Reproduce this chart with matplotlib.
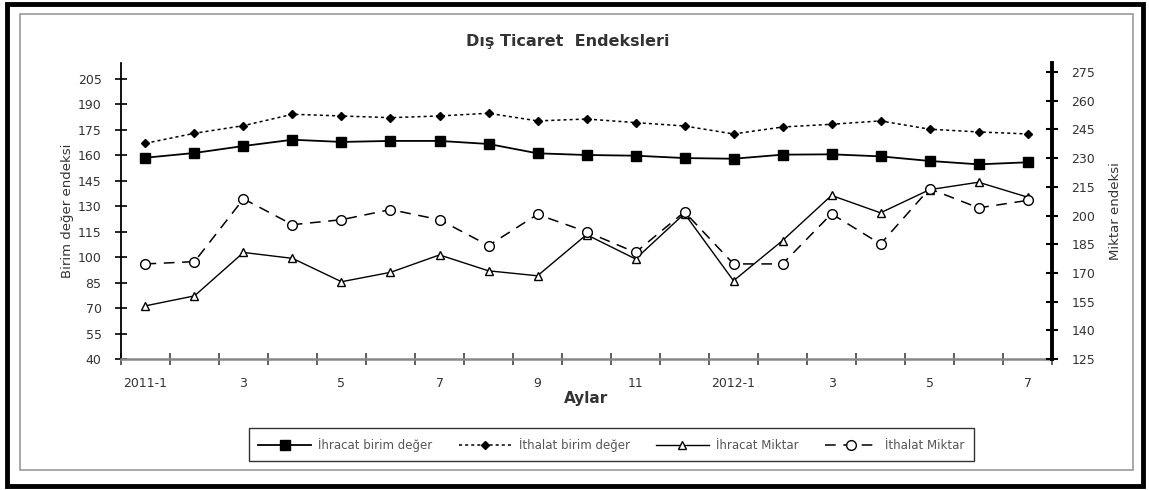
import numpy as np
import matplotlib
matplotlib.use('Agg')
import matplotlib.pyplot as plt
from matplotlib.patches import Rectangle

plt.rcParams['font.family'] = ['DejaVu Sans']

# Veri: 2011-1 .. 2012-7 (19 ay)
aylar = ['2011-1', '2', '3', '4', '5', '6', '7', '8', '9', '10', '11', '12',
         '2012-1', '2', '3', '4', '5', '6', '7']
etiketler = ['2011-1', '3', '5', '7', '9', '11', '2012-1', '3', '5', '7']

ihracat_birim = [158.6, 161.4, 165.5, 169.2, 167.9, 168.5, 168.5, 166.7, 161.2, 160.2,
                 159.8, 158.4, 158.0, 160.4, 160.6, 159.4, 156.7, 154.7, 155.9]
ithalat_birim = [167.1, 173.0, 177.5, 184.2, 183.2, 182.2, 183.2, 184.8, 180.3, 181.4,
                 179.3, 177.3, 172.6, 176.7, 178.3, 180.3, 175.4, 173.8, 172.6]
ihracat_miktar = [152.8, 158.0, 180.7, 177.6, 165.4, 170.3, 179.4, 171.1, 168.5, 190.0,
                  177.3, 201.0, 165.9, 186.9, 210.5, 201.4, 213.5, 217.4, 209.6]
ithalat_miktar = [174.7, 175.9, 208.7, 195.2, 197.8, 203.1, 197.8, 184.3, 200.6, 191.5,
                  180.7, 201.9, 174.7, 174.7, 200.9, 185.1, 214.0, 204.0, 207.9]

x = np.arange(len(aylar))

fig = plt.figure(figsize=(11.49, 4.9), dpi=100)
ax = fig.add_axes([0.1053, 0.2673, 0.8103, 0.6041])
ax2 = ax.twinx()

txt = '#333333'

l1, = ax.plot(x, ihracat_birim, color='black', lw=1.3, marker='s', ms=7,
              label='İhracat birim değer')
l2, = ax.plot(x, ithalat_birim, color='black', lw=1.1, ls=(0, (2, 2)), marker='D', ms=4,
              label='İthalat birim değer')
l3, = ax2.plot(x, ihracat_miktar, color='black', lw=1.0, marker='^', ms=6, mfc='white',
               label='İhracat Miktar')
l4, = ax2.plot(x, ithalat_miktar, color='black', lw=1.1, ls=(0, (7, 5)), marker='o', ms=7,
               mfc='white', label='İthalat Miktar')

ax.set_xlim(-0.5, len(aylar) - 0.5)
ax.set_ylim(40, 214.4)
ax2.set_ylim(125, 279.7)
ax.set_yticks(np.arange(40, 206, 15))
ax2.set_yticks(np.arange(125, 276, 15))

# kategori sinirlarinda tikler, etiketler her iki ayda bir
ax.set_xticks(np.arange(-0.5, len(aylar), 1.0))
ax.set_xticklabels([])
ax.set_xticks(np.arange(0, len(aylar), 2), minor=True)
ax.set_xticklabels(etiketler, minor=True)
ax.tick_params(axis='x', which='major', direction='inout', length=8, width=1.2, color='#444444')
ax.tick_params(axis='x', which='minor', length=0, pad=13, labelsize=9, labelcolor=txt)
ax.tick_params(axis='y', direction='inout', length=8, width=1.2, pad=10, labelsize=9,
               labelcolor=txt)
ax2.tick_params(axis='y', direction='inout', length=8, width=1.5, pad=10, labelsize=9,
                labelcolor=txt)

for a in (ax, ax2):
    a.spines['top'].set_visible(False)
ax.spines['left'].set_linewidth(1.3)
ax.spines['bottom'].set_color('#888888')
ax.spines['bottom'].set_linewidth(1.8)
ax2.spines['right'].set_linewidth(2.8)
ax2.spines['left'].set_visible(False)
ax2.spines['bottom'].set_visible(False)

ax.set_title('Dış Ticaret  Endeksleri', fontsize=11.5, fontweight='bold', color=txt,
             pad=12, x=0.48)
ax.set_xlabel('Aylar', fontsize=11, fontweight='bold', color=txt, labelpad=1)
ax.set_ylabel('Birim değer endeksi', fontsize=9.5, color=txt, labelpad=3)
ax2.set_ylabel('Miktar endeksi', fontsize=9.5, color=txt, rotation=90, labelpad=10)

leg = fig.legend(handles=[l1, l2, l3, l4], loc='center', bbox_to_anchor=(0.532, 0.092),
                 ncol=4, fontsize=8.5, frameon=True, fancybox=False, edgecolor='black',
                 handlelength=4.5, columnspacing=2.2, borderpad=0.8, labelcolor='#555555',
                 handletextpad=0.6)
leg.get_frame().set_linewidth(1.0)

# cerceveler
W, H = 1149, 490
fig.patches.append(Rectangle((20 / W, 1 - 470 / H), (1133 - 20) / W, (470 - 14) / H,
                             transform=fig.transFigure, fill=False, ec='#999999', lw=1.2))
fig.patches.append(Rectangle((7 / W, 1 - 486 / H), (1143 - 7) / W, (486 - 4) / H,
                             transform=fig.transFigure, fill=False, ec='black', lw=3.5))

fig.savefig('out.png', dpi=100)
